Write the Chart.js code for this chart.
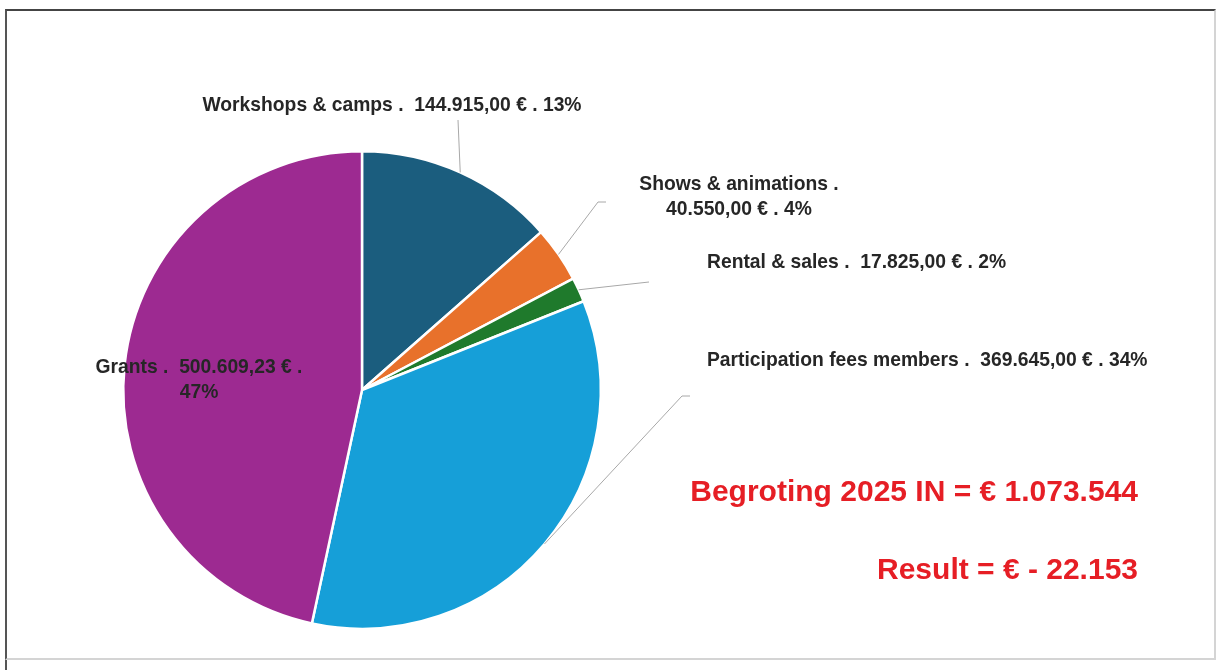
<!DOCTYPE html>
<html>
<head>
<meta charset="utf-8">
<script src="https://cdn.jsdelivr.net/npm/chart.js@4.4.1/dist/chart.umd.min.js"></script>
<style>
  html, body { margin: 0; padding: 0; background: #fff; }
  #wrap { position: relative; width: 1223px; height: 670px; }
  #frame {
    position: absolute; left: 5px; top: 9px; width: 1207px; height: 647px;
    border-left: 2px solid #555; border-top: 2px solid #444;
    border-right: 2px solid #d4d4d4; border-bottom: 2px solid #d4d4d4;
  }
  #frameTail { position: absolute; left: 5px; top: 660px; width: 2px; height: 10px; background: #555; }
  canvas { position: absolute; left: 0; top: 0; }
</style>
</head>
<body>
<div id="wrap">
  <div id="frame"></div>
  <div id="frameTail"></div>
  <canvas id="pieChart" width="1223" height="670"></canvas>
</div>
<script>
// Budget 2025 income
const categories = ['Workshops & camps', 'Shows & animations', 'Rental & sales', 'Participation fees members', 'Grants'];
const amounts = [144915.00, 40550.00, 17825.00, 369645.00, 500609.23];
const sliceColors = ['#1b5d7e', '#e8712b', '#1f7a2c', '#169fd8', '#9d2a91'];
const resultAmount = -22153;

const total = amounts.reduce(function(a, b) { return a + b; }, 0);

function formatThousands(intStr) {
    return intStr.replace(/\B(?=(\d{3})+(?!\d))/g, '.');
}
function formatEuro(v) {
    const parts = v.toFixed(2).split('.');
    return formatThousands(parts[0]) + ',' + parts[1] + ' €';
}
function pct(v) {
    return Math.round(v / total * 100) + '%';
}

// label text lines per slice
const labelLines = [
    [categories[0] + ' .  ' + formatEuro(amounts[0]) + ' . ' + pct(amounts[0])],
    [categories[1] + ' .', formatEuro(amounts[1]) + ' . ' + pct(amounts[1])],
    [categories[2] + ' .  ' + formatEuro(amounts[2]) + ' . ' + pct(amounts[2])],
    [categories[3] + ' .  ' + formatEuro(amounts[3]) + ' . ' + pct(amounts[3])],
    [categories[4] + ' .  ' + formatEuro(amounts[4]) + ' .', pct(amounts[4])]
];

// where each label sits and where its leader line bends
const labelPlacement = [
    { x: 392, y: 106, align: 'center', elbow: [458, 120], tail: 0 },
    { x: 739, y: 185, align: 'center', elbow: [598, 202], tail: 8 },
    { x: 707, y: 263, align: 'left', elbow: [649, 282], tail: 0 },
    { x: 707, y: 361, align: 'left', elbow: [682, 396], tail: 8 },
    { x: 199, y: 368, align: 'center', elbow: null, tail: 0 }
];

const labelFont = 'bold 19.3px "Liberation Sans", Arial, sans-serif';
const summaryFont = 'bold 30px "Liberation Sans", Arial, sans-serif';

const leaderLabels = {
    id: 'leaderLabels',
    afterDatasetsDraw: function(chart) {
        const ctx = chart.ctx;
        const arcs = chart.getDatasetMeta(0).data;
        ctx.save();
        arcs.forEach(function(arc, i) {
            const p = labelPlacement[i];
            const props = arc.getProps(['x', 'y', 'startAngle', 'endAngle', 'outerRadius'], true);
            const mid = (props.startAngle + props.endAngle) / 2;
            if (p.elbow) {
                const ex = props.x + Math.cos(mid) * props.outerRadius;
                const ey = props.y + Math.sin(mid) * props.outerRadius;
                ctx.strokeStyle = '#a8a8a8';
                ctx.lineWidth = 1;
                ctx.beginPath();
                ctx.moveTo(ex, ey);
                ctx.lineTo(p.elbow[0], p.elbow[1]);
                if (p.tail) ctx.lineTo(p.elbow[0] + p.tail, p.elbow[1]);
                ctx.stroke();
            }
            ctx.fillStyle = '#262626';
            ctx.font = labelFont;
            ctx.textAlign = p.align;
            ctx.textBaseline = 'middle';
            labelLines[i].forEach(function(line, k) {
                ctx.fillText(line, p.x, p.y + k * 25);
            });
        });

        // summary in red
        ctx.fillStyle = '#e61e25';
        ctx.font = summaryFont;
        ctx.textAlign = 'right';
        ctx.textBaseline = 'middle';
        ctx.fillText('Begroting 2025 IN = € ' + formatThousands(Math.round(total).toString()), 1138, 493);
        ctx.fillText('Result = € - ' + formatThousands(Math.abs(resultAmount).toString()), 1138, 571);
        ctx.restore();
    }
};

new Chart(document.getElementById('pieChart').getContext('2d'), {
    type: 'pie',
    data: {
        labels: categories,
        datasets: [{
            data: amounts,
            backgroundColor: sliceColors,
            borderColor: '#ffffff',
            borderWidth: 2.5
        }]
    },
    options: {
        responsive: false,
        animation: false,
        layout: {
            padding: { left: 122, right: 621, top: 150, bottom: 40 }
        },
        plugins: {
            legend: { display: false },
            tooltip: { enabled: false }
        }
    },
    plugins: [leaderLabels]
});
</script>
</body>
</html>
